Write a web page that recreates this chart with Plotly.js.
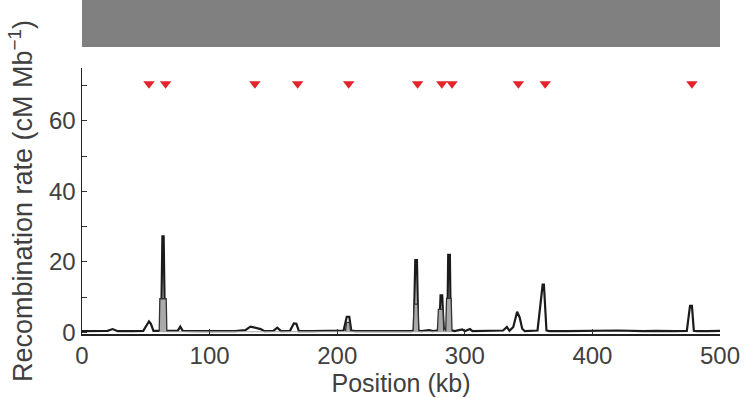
<!DOCTYPE html>
<html>
<head>
<meta charset="utf-8">
<script src="https://cdn.plot.ly/plotly-3.0.1.min.js"></script>
<style>html,body{margin:0;padding:0;background:#fff;}#chart{width:752px;height:398px;}</style>
</head>
<body>
<div id="chart"></div>
<script>
// Recombination rate (black estimate)
const positionKb = [0,10,20,24,28,40,48,51,52.5,54,56,58,62,63,64,65,68,72,75,77,79,90,100,110,120,128,132,136,140,143,150,153,156,163,166,168,170,180,190,200,205,207.5,209.5,211,214,230,240,250,258,260,261.2,262.5,263.5,266,272,275,278,280,281,282.3,283.5,285,286.3,287,288.3,289,292,298,300,304,306,320,330,333,335,338,341,343,345,347,355,357,361,362,364,366,380,395,410,420,440,450,465,474,476.5,478,479.5,482,490,500];
const rateBlack = [0.3,0.3,0.4,0.9,0.3,0.3,0.4,2.2,3.1,2.4,0.4,0.4,0.4,27.2,27.2,0.4,0.4,0.3,0.4,1.6,0.4,0.3,0.4,0.3,0.3,0.6,1.6,1.2,0.9,0.3,0.4,1.3,0.3,0.4,2.5,2.4,0.3,0.3,0.4,0.3,0.5,4.4,4.4,0.5,0.3,0.3,0.4,0.3,0.3,0.5,20.5,20.5,0.5,0.3,0.6,0.3,0.5,0.8,10.5,10.5,1.0,1.0,0.6,22,22,0.6,0.3,0.8,0.3,0.9,0.3,0.3,0.5,1.5,0.4,1.5,5.8,4.2,1.0,0.3,0.3,0.5,13.5,13.5,0.5,0.3,0.3,0.4,0.3,0.5,0.3,0.4,0.3,0.4,7.5,7.5,0.4,0.3,0.3,0.4];
// Recombination rate (grey estimate), shown where it departs from the black one
const grayPosKb = [60.5,61,66,66.5,null,206.5,207.3,209.7,210.5,null,259.5,260.3,263.2,264,null,278.5,279.3,282.8,283.6,null,285,285.7,289.3,290];
const rateGray = [0.3,9.5,9.5,0.3,null,0.3,2.8,2.8,0.3,null,0.3,8,8,0.3,null,0.3,6.5,6.5,0.3,null,0.3,9.6,9.6,0.3];
// Red triangle markers (hotspot positions)
const markerKb = [52.5,65.5,135.5,169,209,263,282,290,342,363,478];
const markerLevel = 70.5;
// Axis ticks
const xTicks = [0,100,200,300,400,500];
const yTicks = [0,20,40,60];

const txt = '#404040';
const fam = '"Liberation Sans", Arial, Helvetica, sans-serif';

const traces = [
  {x: positionKb, y: rateBlack, type: 'scatter', mode: 'lines',
   line: {color: '#1b1b1b', width: 2.2}, hoverinfo: 'skip'},
  {x: grayPosKb, y: rateGray, type: 'scatter', mode: 'lines', connectgaps: false,
   fill: 'tozeroy', fillcolor: '#aaaaaa',
   line: {color: '#333', width: 1.3}, hoverinfo: 'skip'},
  {x: markerKb, y: markerKb.map(() => markerLevel), type: 'scatter', mode: 'markers',
   marker: {symbol: 'triangle-down', size: 10, color: '#e3242b'}, hoverinfo: 'skip'}
];

const layout = {
  width: 752, height: 398,
  margin: {l: 82, r: 32, t: 68, b: 64},
  paper_bgcolor: '#fff', plot_bgcolor: '#fff',
  showlegend: false,
  font: {family: fam, color: txt, size: 24},
  xaxis: {
    range: [0, 500], tickvals: xTicks, ticks: 'inside', ticklen: 5,
    tickcolor: '#333', showline: true, linecolor: '#222', linewidth: 1.5,
    showgrid: false, zeroline: false, tickfont: {size: 24, color: txt},
    title: {text: 'Position (kb)', font: {size: 25, color: txt}, standoff: 2}
  },
  yaxis: {
    range: [-0.5, 75], tickvals: yTicks,
    ticks: 'inside', ticklen: 5, tickcolor: '#333',
    minor: {dtick: 10, tick0: 0, ticks: 'inside', ticklen: 5, tickcolor: '#333', showgrid: false},
    showline: true, linecolor: '#222', linewidth: 1.5,
    showgrid: false, zeroline: false, tickfont: {size: 24, color: txt},
    title: {text: 'Recombination rate (cM Mb<sup>−1</sup>)', font: {size: 27, color: txt}, standoff: 8}
  },
  shapes: [
    {type: 'rect', xref: 'x', yref: 'paper', x0: 0, x1: 500, y0: 1.079, y1: 1.3,
     fillcolor: '#808080', line: {width: 0}, layer: 'below'}
  ]
};

Plotly.newPlot('chart', traces, layout, {displayModeBar: false, staticPlot: true});
</script>
</body>
</html>
